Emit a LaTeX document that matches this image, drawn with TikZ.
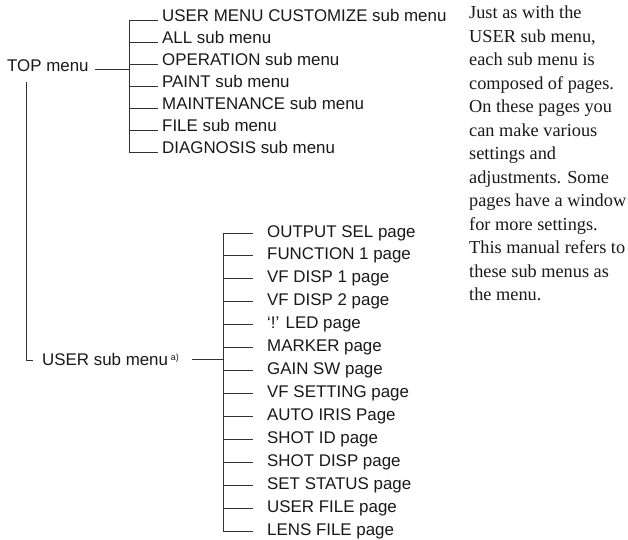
\documentclass[tikz,border=0pt]{standalone}
\usepackage{fontspec}
\setmainfont{Liberation Serif}
\setsansfont{Liberation Sans}
\begin{document}
\begin{tikzpicture}[x=1pt,y=1pt,
  lbl/.style={font=\sffamily\fontsize{16.9}{18}\selectfont, inner sep=0pt, anchor=base west, text=black!90},
  ln/.style={line width=0.9pt, draw=black!80},
  para/.style={font=\rmfamily\fontsize{18.3}{23.5}\selectfont, inner sep=0pt, anchor=north west, align=left, text=black!90}]
\useasboundingbox (0,0) rectangle (628,-539);
% TOP menu
\node[lbl] (top) at (7,-71) {TOP menu};
\coordinate (topR) at (95,-69);
\coordinate (busT) at (129,-20);
\coordinate (busB) at (129,-152);
\draw[ln] (topR) -- (topR -| busT);
\draw[ln] (busT) -- (busB);
\foreach \t [count=\i from 0] in {USER MENU CUSTOMIZE sub menu, ALL sub menu, OPERATION sub menu, PAINT sub menu, MAINTENANCE sub menu, FILE sub menu, DIAGNOSIS sub menu} {
  \pgfmathsetmacro\yy{-20-22*\i}
  \coordinate (tb\i) at (129,\yy);
  \node[lbl] (s\i) at (162,\yy-1) {\t};
  \draw[ln] (tb\i) -- ++(29,0);
}
% USER sub menu
\coordinate (vtop) at (26,-82);
\coordinate (vbot) at (26,-360);
\draw[ln] (vtop) -- (vbot) -- ++(7,0);
\node[lbl] (user) at (42,-365) {USER sub menu\,\raisebox{5pt}{\fontsize{9}{9}\selectfont a)}};
\coordinate (userR) at (192,-359);
\coordinate (ubT) at (223,-233);
\coordinate (ubB) at (223,-531);
\draw[ln] (userR) -- (userR -| ubT);
\draw[ln] (ubT) -- (ubB);
\foreach \t [count=\i from 0] in {OUTPUT SEL page, FUNCTION 1 page, VF DISP 1 page, VF DISP 2 page, ‘!’ LED page, MARKER page, GAIN SW page, VF SETTING page, AUTO IRIS Page, SHOT ID page, SHOT DISP page, SET STATUS page, USER FILE page, LENS FILE page} {
  \pgfmathsetmacro\yy{-233-22.923*\i}
  \coordinate (pb\i) at (223,\yy);
  \node[lbl] (p\i) at (267,\yy-4) {\t};
  \draw[ln] (pb\i) -- ++(30,0);
}
% paragraph
\node[para] (note) at (469,-6) {Just as with the\\USER sub menu,\\each sub menu is\\composed of pages.\\On these pages you\\can make various\\settings and\\adjustments. Some\\pages have a window\\for more settings.\\This manual refers to\\these sub menus as\\the menu.};
\end{tikzpicture}
\end{document}
